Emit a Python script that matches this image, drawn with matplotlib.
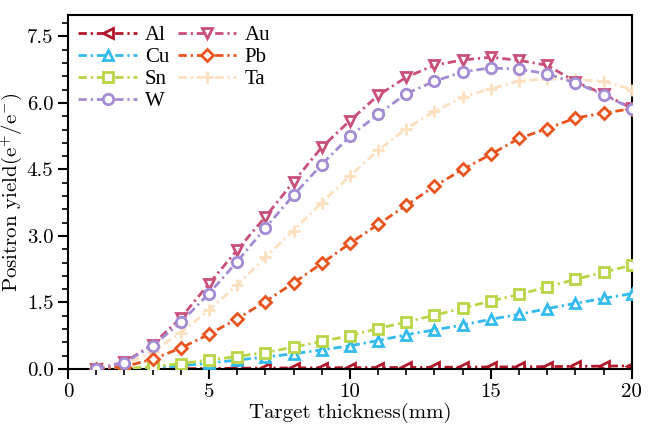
import matplotlib
matplotlib.use("Agg")
import matplotlib.pyplot as plt
from matplotlib.ticker import MultipleLocator, FormatStrFormatter

x = list(range(1, 21))
Al = [0, 0, 0, 0.005, 0.01, 0.015, 0.02, 0.022, 0.025, 0.028, 0.03, 0.033, 0.036, 0.04, 0.043, 0.047, 0.052, 0.057, 0.063, 0.07]
Cu = [0, 0, 0.03, 0.07, 0.13, 0.2, 0.27, 0.34, 0.43, 0.52, 0.64, 0.77, 0.88, 0.99, 1.12, 1.23, 1.36, 1.48, 1.59, 1.70]
Sn = [0, 0.01, 0.05, 0.12, 0.2, 0.28, 0.37, 0.49, 0.62, 0.75, 0.91, 1.06, 1.21, 1.37, 1.53, 1.68, 1.85, 2.02, 2.18, 2.34]
W = [0, 0.14, 0.52, 1.05, 1.70, 2.42, 3.18, 3.92, 4.61, 5.25, 5.74, 6.21, 6.49, 6.70, 6.79, 6.76, 6.66, 6.45, 6.19, 5.87]
Au = [0, 0.15, 0.55, 1.15, 1.92, 2.68, 3.43, 4.22, 5.0, 5.6, 6.17, 6.58, 6.85, 6.97, 7.03, 6.96, 6.85, 6.48, 6.2, 5.88]
Pb = [0, 0.05, 0.22, 0.47, 0.78, 1.13, 1.52, 1.94, 2.38, 2.83, 3.26, 3.69, 4.12, 4.50, 4.84, 5.20, 5.42, 5.66, 5.77, 5.87]
Ta = [0, 0.1, 0.38, 0.82, 1.33, 1.89, 2.52, 3.12, 3.75, 4.35, 4.93, 5.42, 5.81, 6.13, 6.32, 6.49, 6.55, 6.53, 6.49, 6.30]

series = [
    ("Al", Al, "#b2182b", "<", 2),
    ("Cu", Cu, "#33bbee", "^", 3),
    ("Sn", Sn, "#b8d646", "s", 4),
    ("W", W, "#a48cd4", "o", 8),
    ("Au", Au, "#c9507a", "v", 6),
    ("Pb", Pb, "#e8541e", "D", 5),
    ("Ta", Ta, "#fde0c0", "+", 4.5),
]

plt.rcParams["font.family"] = ["Liberation Serif", "DejaVu Serif"]
plt.rcParams["mathtext.fontset"] = "cm"

fig = plt.figure(figsize=(6.54, 4.33), dpi=100)
ax = fig.add_axes([0.104, 0.148, 0.862, 0.817])

dash = (0, (3.0, 1.4, 0.8, 1.4))
for name, vals, col, mk, z in series:
    ms = 7.5
    if mk == "D":
        ms = 6.5
    if mk == "+":
        ms = 9
    ax.plot(x, vals, linestyle=dash, color=col, marker=mk, markersize=ms,
            markerfacecolor="white" if mk != "+" else col, markeredgecolor=col,
            markeredgewidth=2.0, linewidth=2.0, label=name, zorder=z)

ax.set_xlim(0, 20)
ax.set_ylim(0, 7.98)
ax.xaxis.set_major_locator(MultipleLocator(5))
ax.xaxis.set_minor_locator(MultipleLocator(1))
ax.yaxis.set_major_locator(MultipleLocator(1.5))
ax.yaxis.set_minor_locator(MultipleLocator(0.3))
ax.yaxis.set_major_formatter(FormatStrFormatter("%.1f"))
ax.tick_params(which="major", direction="out", length=7, width=1.5, labelsize=15)
ax.tick_params(which="minor", direction="out", length=4, width=1.2)
for lab in ax.get_xticklabels() + ax.get_yticklabels():
    lab.set_fontfamily(["cmr10", "DejaVu Serif"])
for sp in ax.spines.values():
    sp.set_linewidth(1.5)

ax.set_xlabel("Target thickness(mm)", fontsize=15, labelpad=1,
              fontfamily=["cmr10", "DejaVu Serif"])
ax.set_ylabel(r"Positron yield$(\mathrm{e}^{+}/\mathrm{e}^{-})$", fontsize=15,
              fontfamily=["cmr10", "DejaVu Serif"])
ax.yaxis.set_label_coords(-0.078, 0.5)

leg = ax.legend(ncol=2, loc="upper left", frameon=False, fontsize=15,
                handlelength=2.8, columnspacing=0.4, labelspacing=0.12,
                handletextpad=0.4, borderaxespad=0.2, borderpad=0.3,
                bbox_to_anchor=(0.0, 1.0))

fig.savefig("out.png", dpi=100)
